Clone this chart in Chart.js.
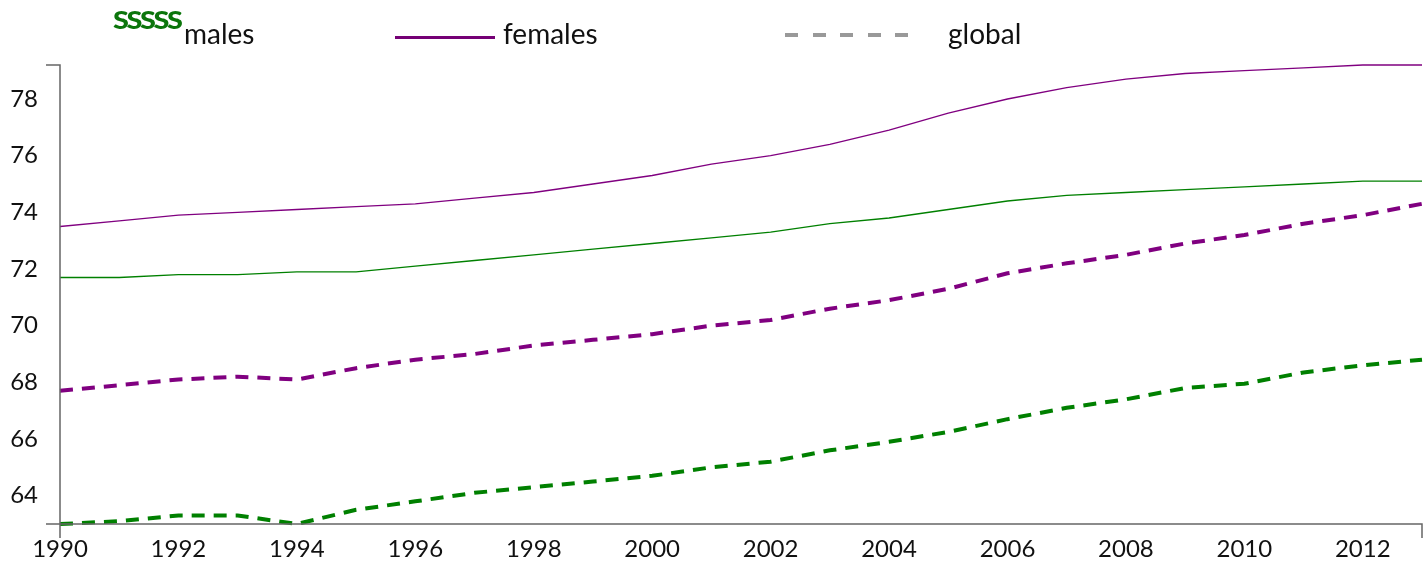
<!DOCTYPE html>
<html>
<head>
<meta charset="utf-8">
<script src="https://cdn.jsdelivr.net/npm/chart.js@4.4.1/dist/chart.umd.min.js"></script>
<style>
  html, body { margin: 0; padding: 0; background: #fff; }
  #wrap { position: relative; width: 1428px; height: 562px; font-family: Lato, "Noto Sans", sans-serif; }
  #lifeChart { position: absolute; left: 0; top: 0; }
  .lg { position: absolute; font-size: 28px; color: #111; line-height: 1; white-space: nowrap; }
  .swatch { position: absolute; height: 4px; }
</style>
</head>
<body>
<div id="wrap">
  <canvas id="lifeChart" width="1428" height="562"></canvas>
  <div class="lg" style="left:113px; top:8px; color:#0b750b; font-weight:900; font-size:24px; letter-spacing:-2px; transform:scaleX(1.2); transform-origin:left;">SSSSS</div>
  <div class="lg" style="left:184px; top:19px;">males</div>
  <div class="swatch" style="left:395px; top:36px; width:100px; height:3px; background:#750075;"></div>
  <div class="lg" style="left:503px; top:19px;">females</div>
  <div class="swatch" style="left:785px; top:33px; width:124px; background:repeating-linear-gradient(to right, #999 0 13px, transparent 13px 27.5px);"></div>
  <div class="lg" style="left:948px; top:19px;">global</div>
</div>
<script>
const years = [1990, 1991, 1992, 1993, 1994, 1995, 1996, 1997, 1998, 1999, 2000, 2001,
               2002, 2003, 2004, 2005, 2006, 2007, 2008, 2009, 2010, 2011, 2012, 2013];

// country lines (solid)
const femalesLocal = [73.5, 73.7, 73.9, 74.0, 74.1, 74.2, 74.3, 74.5, 74.7, 75.0, 75.3, 75.7,
                      76.0, 76.4, 76.9, 77.5, 78.0, 78.4, 78.7, 78.9, 79.0, 79.1, 79.2, 79.2];
const malesLocal   = [71.7, 71.7, 71.8, 71.8, 71.9, 71.9, 72.1, 72.3, 72.5, 72.7, 72.9, 73.1,
                      73.3, 73.6, 73.8, 74.1, 74.4, 74.6, 74.7, 74.8, 74.9, 75.0, 75.1, 75.1];

// global lines (dashed)
const femalesGlobal = [67.7, 67.9, 68.1, 68.2, 68.1, 68.5, 68.8, 69.0, 69.3, 69.5, 69.7, 70.0,
                       70.2, 70.6, 70.9, 71.3, 71.85, 72.2, 72.5, 72.9, 73.2, 73.6, 73.9, 74.3];
const malesGlobal   = [63.0, 63.1, 63.3, 63.3, 63.0, 63.5, 63.8, 64.1, 64.3, 64.5, 64.7, 65.0,
                       65.2, 65.6, 65.9, 66.25, 66.7, 67.1, 67.4, 67.8, 67.95, 68.35, 68.6, 68.8];

const xTickYears = [1990, 1992, 1994, 1996, 1998, 2000, 2002, 2004, 2006, 2008, 2010, 2012];
const yTickValues = [64, 66, 68, 70, 72, 74, 76, 78];

const GREEN = '#008000';
const PURPLE = '#800080';
const AXIS = '#666';

const toPoints = (vals) => vals.map((v, i) => ({ x: years[i], y: v }));

const allVals = [].concat(femalesLocal, malesLocal, femalesGlobal, malesGlobal);

// d3-like domain paths with outer ticks only
const domainAxes = {
  id: 'domainAxes',
  afterDatasetsDraw(chart) {
    const { ctx, chartArea: a } = chart;
    const outer = 14;
    ctx.save();
    ctx.strokeStyle = AXIS;
    ctx.lineWidth = 1.5;
    ctx.beginPath();
    ctx.moveTo(a.left - outer, a.top);
    ctx.lineTo(a.left, a.top);
    ctx.lineTo(a.left, a.bottom);
    ctx.lineTo(a.left - outer, a.bottom);
    ctx.moveTo(a.left, a.bottom + outer);
    ctx.lineTo(a.left, a.bottom);
    ctx.lineTo(a.right, a.bottom);
    ctx.lineTo(a.right, a.bottom + outer);
    ctx.stroke();
    ctx.restore();
  }
};

const solid = (label, data, color) => ({
  label, data: toPoints(data), borderColor: color, borderWidth: 1.3,
  pointRadius: 0, tension: 0, fill: false, clip: false
});
const dashed = (label, data, color) => ({
  label, data: toPoints(data), borderColor: color, borderWidth: 4,
  borderDash: [13, 9], pointRadius: 0, tension: 0, fill: false, clip: false
});

new Chart(document.getElementById('lifeChart').getContext('2d'), {
  type: 'line',
  data: {
    datasets: [
      solid('females', femalesLocal, PURPLE),
      solid('males', malesLocal, GREEN),
      dashed('females global', femalesGlobal, PURPLE),
      dashed('males global', malesGlobal, GREEN)
    ]
  },
  options: {
    responsive: false,
    animation: false,
    devicePixelRatio: 1,
    layout: { padding: { top: 65, right: 6, left: 0, bottom: 0 } },
    plugins: { legend: { display: false }, tooltip: { enabled: false } },
    scales: {
      x: {
        type: 'linear',
        min: years[0],
        max: years[years.length - 1],
        grid: { display: false, drawTicks: false },
        border: { display: false },
        afterBuildTicks: (scale) => { scale.ticks = xTickYears.map(v => ({ value: v })); },
        afterFit: (scale) => { scale.height = 38; },
        ticks: {
          color: '#111', padding: 11, maxRotation: 0, autoSkip: false,
          font: { family: 'Lato', size: 24 },
          callback: (v) => String(v)
        }
      },
      y: {
        min: Math.min(...allVals),
        max: Math.max(...allVals),
        grid: { display: false, drawTicks: false },
        border: { display: false },
        afterBuildTicks: (scale) => { scale.ticks = yTickValues.map(v => ({ value: v })); },
        afterFit: (scale) => { scale.width = 60; },
        ticks: {
          color: '#111', padding: 22,
          font: { family: 'Lato', size: 24 },
          callback: (v) => String(v)
        }
      }
    }
  },
  plugins: [domainAxes]
});
</script>
</body>
</html>
